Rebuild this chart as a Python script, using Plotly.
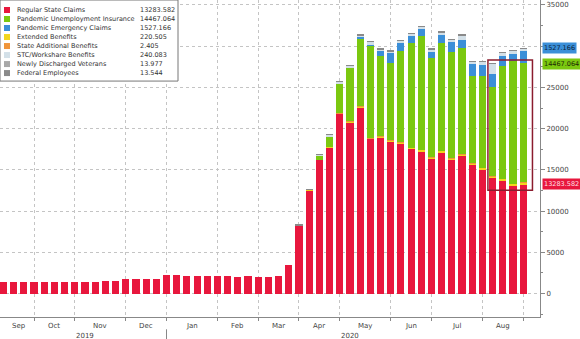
import plotly.graph_objects as go

# ---------------- data (thousands) ----------------
dates = ["2019-09-13", "2019-09-20", "2019-09-27", "2019-10-04", "2019-10-11", "2019-10-18",
         "2019-10-25", "2019-11-01", "2019-11-08", "2019-11-15", "2019-11-22", "2019-11-29",
         "2019-12-06", "2019-12-13", "2019-12-20", "2019-12-27", "2020-01-03", "2020-01-10",
         "2020-01-17", "2020-01-24", "2020-01-31", "2020-02-07", "2020-02-14", "2020-02-21",
         "2020-02-28", "2020-03-06", "2020-03-13", "2020-03-20", "2020-03-27", "2020-04-03",
         "2020-04-10", "2020-04-17", "2020-04-24", "2020-05-01", "2020-05-08", "2020-05-15",
         "2020-05-22", "2020-05-29", "2020-06-05", "2020-06-12", "2020-06-19", "2020-06-26",
         "2020-07-03", "2020-07-10", "2020-07-17", "2020-07-24", "2020-07-31", "2020-08-07",
         "2020-08-14", "2020-08-21", "2020-08-28", "2020-09-04"]

regular = [1410, 1390, 1380, 1370, 1370, 1380, 1380, 1390, 1410, 1450, 1500, 1520,
           1740, 1740, 1760, 1750,
           2220, 2260, 2140, 2150, 2140,
           2140, 2130, 2020, 2140,
           2020, 2020, 2100, 3440,
           8250, 12540, 16200, 17750,
           21800, 20780, 22600, 18750, 18960,
           18480, 18240, 17550, 17260,
           16340, 17140, 16220, 16700, 15610,
           15040, 14030, 13700, 13100,
           13283.582]

extended = [0] * 29 + [10, 20, 40, 60, 80, 100, 110, 110, 120, 130, 140, 150, 160, 170,
                       180, 190, 200, 210, 220, 220, 220, 220, 220.505]

state_add = [0] * 29 + [1, 1, 2, 2, 2, 3, 3, 3, 3, 3, 3, 3, 3, 3, 3, 3, 3, 3, 3, 3, 3, 3, 2.405]

pua = [0] * 31 + [450, 1290, 3620, 6520, 8130, 11240, 9730, 9310, 11070, 12720, 13820,
                  12020, 13030, 12920, 12840, 10560, 11180, 10750, 13720, 14880, 14467.064]

peuc = [0] * 35 + [300, 50, 640, 1290, 970, 850, 810, 800, 1010, 1210, 1040, 1460, 1280,
                   1620, 1170, 850, 1527.166]

stc = [0] * 29 + [40, 80, 120, 160, 200, 230, 200, 420, 180, 180, 220, 260, 290, 300,
                  330, 270, 550, 290, 370, 1270, 370, 400, 240.083]

veterans = [0] * 29 + [9, 10, 10, 11, 11, 12, 12, 12, 13, 13, 13, 13, 14, 14, 14, 14, 14,
                       14, 14, 14, 14, 14, 13.977]

federal = [0] * 29 + [15, 16, 17, 18, 18, 19, 19, 19, 18, 18, 17, 17, 16, 16, 15, 15, 15,
                      14, 14, 14, 14, 14, 13.544]

month_names = ["Jan", "Feb", "Mar", "Apr", "May", "Jun", "Jul", "Aug", "Sep", "Oct", "Nov", "Dec"]

# right-axis ticks (the 30000 label is hidden behind the value tags in the original)
y_ticks = [0, 5000, 10000, 15000, 20000, 25000, 30000, 35000]
y_tick_text = ["0", "5000", "10000", "15000", "20000", "25000", "", "35000"]

# ---------------- styling ----------------
FONT = "DejaVu Sans"
RED, GREEN, BLUE = "#e8173d", "#7bc810", "#3b8fd8"
YELLOW, ORANGE, LIGHT = "#f2d51c", "#f0953a", "#d3e0e8"
GRAY1, GRAY2 = "#a8a8a8", "#8a8a8a"

series = [  # stacking order (bottom -> top)
    ("Regular State Claims", regular, RED),
    ("Extended Benefits", extended, YELLOW),
    ("State Additional Benefits", state_add, ORANGE),
    ("Pandemic Unemployment Insurance", pua, GREEN),
    ("Pandemic Emergency Claims", peuc, BLUE),
    ("STC/Workshare Benefits", stc, LIGHT),
    ("Newly Discharged Veterans", veterans, GRAY1),
    ("Federal Employees", federal, GRAY2),
]
legend_order = ["Regular State Claims", "Pandemic Unemployment Insurance",
                "Pandemic Emergency Claims", "Extended Benefits", "State Additional Benefits",
                "STC/Workshare Benefits", "Newly Discharged Veterans", "Federal Employees"]

x = list(range(len(dates)))
fig = go.Figure()
for name, vals, col in series:
    fig.add_trace(go.Bar(x=x, y=vals, name=name, marker_color=col, marker_line_width=0,
                         width=0.7, showlegend=False, hovertext=dates))

# month groupings
month_of = [d[:7] for d in dates]
starts = [i for i in range(1, len(dates)) if month_of[i] != month_of[i - 1]]
bounds = [0] + starts
W, H = 540.0, 316.7


def px(v):
    return v / W


def py(v):
    return 1 - v / H


annotations = []
shapes = []
# month labels (skip the final partial month)
for k in range(len(bounds) - 1):
    a, b = bounds[k], bounds[k + 1]
    m = int(dates[a][5:7])
    annotations.append(dict(x=(a + b) / 2, y=0, xref="x", yref="paper", yanchor="top",
                            yshift=-3, text=month_names[m - 1], showarrow=False,
                            font=dict(family=FONT, size=7, color="#444")))
# year labels
years = [d[:4] for d in dates]
ystarts = [0] + [i for i in range(1, len(dates)) if years[i] != years[i - 1]]
yends = ystarts[1:] + [len(dates)]
for a, b in zip(ystarts, yends):
    annotations.append(dict(x=(a + b) / 2, y=0, xref="x", yref="paper", yanchor="top",
                            yshift=-12.5, text=years[a], showarrow=False,
                            font=dict(family=FONT, size=7, color="#444")))
for a in ystarts[1:]:
    shapes.append(dict(type="line", xref="x", yref="paper", x0=a, x1=a,
                       y0=py(329), y1=py(339), line=dict(color="#888", width=1)))

# manual legend
shapes.append(dict(type="rect", xref="paper", yref="paper", x0=px(0), x1=px(178),
                   y0=py(81), y1=py(0), fillcolor="white", line=dict(color="#777", width=1),
                   layer="above"))
lookup = {n: (v, c) for n, v, c in series}
for i, name in enumerate(legend_order):
    vals, col = lookup[name]
    cy = 10 + 9.0 * i
    shapes.append(dict(type="rect", xref="paper", yref="paper", x0=px(4), x1=px(10),
                       y0=py(cy + 3), y1=py(cy - 3), fillcolor=col, line=dict(width=0),
                       layer="above"))
    annotations.append(dict(x=px(15), y=py(cy), xref="paper", yref="paper", xanchor="left",
                            yanchor="middle", text=name, showarrow=False,
                            font=dict(family=FONT, size=6.5, color="#333")))
    annotations.append(dict(x=px(138), y=py(cy), xref="paper", yref="paper", xanchor="left",
                            yanchor="middle", text=f"{vals[-1]:.3f}", showarrow=False,
                            font=dict(family=FONT, size=6.5, color="#333")))

# value tags on right axis
cum = 0
tops = {}
for name, vals, col in series:
    cum += vals[-1]
    tops[name] = cum
for name, bg, fc, ys in [("Regular State Claims", RED, "#ffe0e6", 0),
                         ("Pandemic Unemployment Insurance", GREEN, "#1d2a05", -1),
                         ("Pandemic Emergency Claims", BLUE, "#0d1f3a", 2)]:
    annotations.append(dict(x=1, y=tops[name], xref="paper", yref="y", xanchor="left",
                            yanchor="middle", xshift=2, yshift=ys,
                            text=f"{lookup[name][0][-1]:.3f}",
                            showarrow=False, bgcolor=bg, borderpad=1,
                            font=dict(family=FONT, size=6.5, color=fc)))

# highlight box around the last four weeks
n = len(dates)
shapes.append(dict(type="rect", xref="x", yref="y", x0=n - 4 - 0.46, x1=n - 1 + 0.91,
                   y0=12540, y1=28330, line=dict(color="#8b1c2e", width=1.5),
                   fillcolor="rgba(0,0,0,0)", layer="above"))

fig.update_layout(
    width=580, height=339, barmode="stack", bargap=0,
    margin=dict(l=0, r=40, t=0, b=22.3, autoexpand=False),
    paper_bgcolor="white", plot_bgcolor="white",
    showlegend=False, annotations=annotations, shapes=shapes,
    xaxis=dict(range=[-0.34, 52.65], tickvals=starts, ticktext=[""] * len(starts),
               showgrid=True, griddash="dot", gridcolor="#c4c4c4", gridwidth=1,
               ticks="outside", ticklen=3, tickcolor="#888", showline=True,
               linecolor="#888", linewidth=1, zeroline=False, automargin=False),
    yaxis=dict(side="right", range=[-2840, 35600], tickvals=y_ticks, ticktext=y_tick_text,
               showgrid=True, griddash="dot", gridcolor="#c4c4c4", gridwidth=1,
               ticks="outside", ticklen=4, tickcolor="#888", showline=True,
               linecolor="#888", linewidth=1, zeroline=False, automargin=False,
               tickfont=dict(family=FONT, size=7, color="#444"),
               minor=dict(dtick=2500, tick0=0, ticklen=2, tickcolor="#888", ticks="outside",
                          showgrid=False)),
)

fig.write_html("out.html")
